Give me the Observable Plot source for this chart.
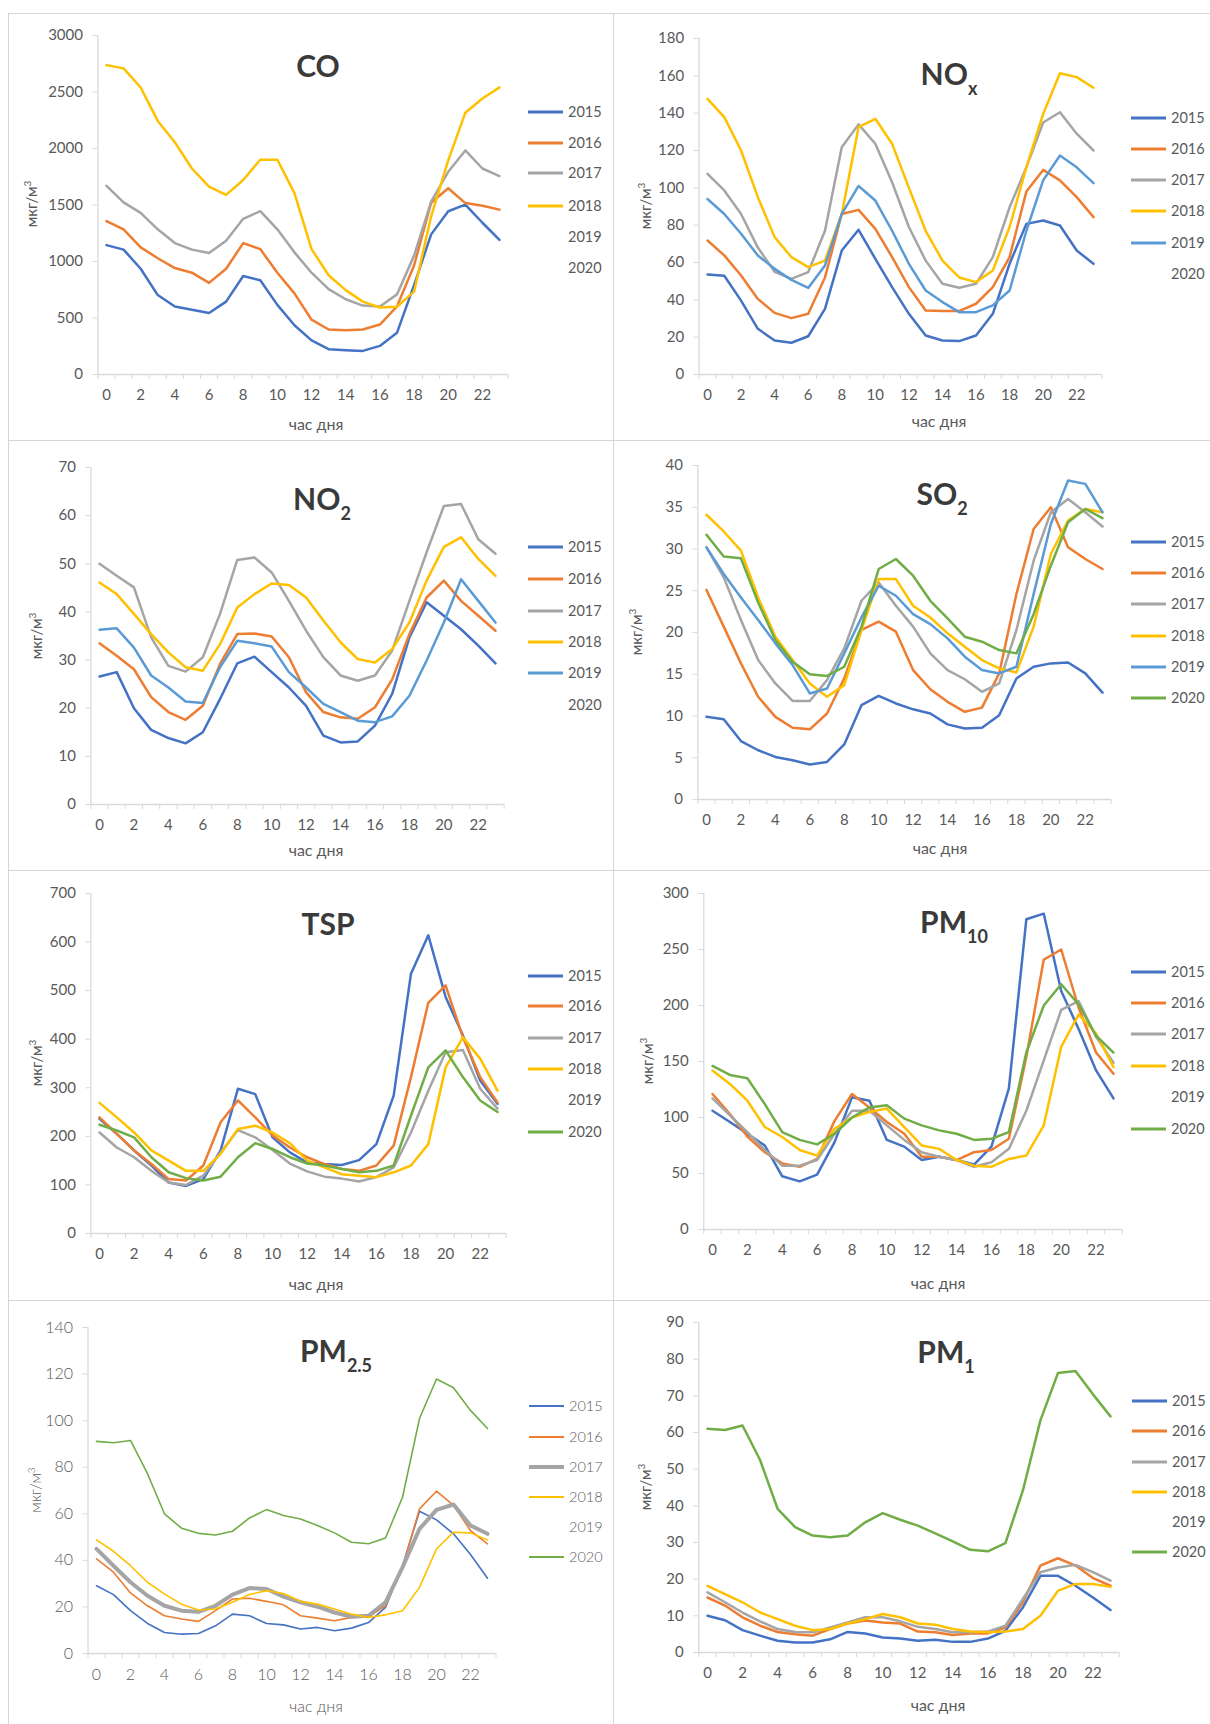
<!DOCTYPE html>
<html><head><meta charset="utf-8">
<script src="https://cdn.jsdelivr.net/npm/d3@7"></script>
<script src="https://cdn.jsdelivr.net/npm/@observablehq/plot@0.6"></script>
<style>
body{margin:0;background:#fff;font-family:Lato,"Open Sans",sans-serif;}
#page{position:relative;width:1210px;height:1724px;overflow:hidden;background:#fff;}
.frame{position:absolute;box-sizing:border-box;border-top:1px solid #d6d6d6;border-left:1px solid #d6d6d6;}
.svgwrap{position:absolute;}
.title{position:absolute;font-weight:700;font-size:30px;line-height:30px;color:#3a3a3a;white-space:nowrap;transform:translate(-50%,-50%);}
.title sub{font-size:18px;vertical-align:baseline;position:relative;top:10px;}
.xlab{position:absolute;font-size:16px;color:#595959;white-space:nowrap;transform:translate(-50%,-50%);}
.ylab{position:absolute;font-size:15px;color:#595959;white-space:nowrap;transform:translate(-50%,-50%) rotate(-90deg);}
.ylab sup{font-size:10px;}
.lg{position:absolute;height:0;}
.lgline{position:absolute;width:35px;height:3px;transform:translateY(-50%);}
.lgtext{position:absolute;font-size:14.5px;color:#595959;transform:translateY(-50%);line-height:16px;}
</style></head>
<body><div id="page"></div>
<script>
// ---------------- DATA ----------------
const hours = [0,1,2,3,4,5,6,7,8,9,10,11,12,13,14,15,16,17,18,19,20,21,22,23];
const hourTicks = [0,2,4,6,8,10,12,14,16,18,20,22];
const years = ["2015","2016","2017","2018","2019","2020"];

// CO
const CO_ticks = [0,500,1000,1500,2000,2500,3000];
const CO_2015 = [1145,1105,936,703,602,573,544,645,872,834,616,436,302,224,215,209,253,369,791,1240,1445,1503,1343,1192];
const CO_2016 = [1358,1285,1125,1029,942,901,811,936,1163,1110,901,718,485,398,392,398,442,602,965,1520,1648,1517,1494,1459];
const CO_2017 = [1669,1523,1430,1285,1163,1105,1076,1183,1378,1445,1285,1081,901,756,666,610,602,709,1052,1530,1794,1983,1823,1756];
const CO_2018 = [2738,2709,2540,2244,2055,1823,1663,1590,1721,1901,1900,1605,1110,878,747,645,593,600,733,1400,1895,2317,2442,2541];

// NOx
const NOX_ticks = [0,20,40,60,80,100,120,140,160,180];
const NOX_2015 = [53.6,52.9,39.6,24.5,18.2,17,20.5,35.2,66.4,77.5,62,46.8,32.5,20.9,18.2,17.9,20.9,32.5,59.3,80.7,82.5,79.8,66.4,59.3];
const NOX_2016 = [71.8,63.8,53,40.5,33,30.2,32.5,52,86,88.2,78,62.9,46.8,34.3,34,34,37.9,46.8,62.9,98,109.6,104,95,84.3];
const NOX_2017 = [107.5,98.6,86,68,55,51.2,54.8,77,121.8,134,123.6,103,79,61,48.6,46.5,48.6,62.9,89.6,111,135,140.5,129,120];
const NOX_2018 = [147.7,137.9,120,95,73.6,62.9,57.5,61,86,132.5,137,123.6,100,77,61,52,49.5,55.7,79,111,139.6,161.4,159.3,153.6];
const NOX_2019 = [94,86,75.4,63.8,56.6,50.7,46.4,58.4,86,101,93.2,77,59.3,45,38.8,33.4,33.4,37,45,77,104,117.3,111,102.5];

// NO2
const NO2_ticks = [0,10,20,30,40,50,60,70];
const NO2_2015 = [26.6,27.5,20,15.5,13.8,12.7,15,21.9,29.3,30.7,27.5,24.3,20.5,14.3,12.9,13.1,16.4,23,34.7,42,39.2,36.4,33,29.3];
const NO2_2016 = [33.5,30.9,28.1,22.3,19.2,17.6,20.5,29.2,35.4,35.5,34.9,30.6,23.3,19.2,18.1,17.8,20.2,26,35.4,43,46.5,42.3,39.2,36.1];
const NO2_2017 = [50,47.5,45.1,34.7,28.8,27.6,30.6,39.6,50.8,51.3,48.2,42.3,36.1,30.6,26.8,25.7,26.8,32,42.3,52.4,62,62.4,55.1,52.1];
const NO2_2018 = [46.1,43.7,39.6,35.4,31.6,28.5,27.8,33.3,40.9,43.7,45.9,45.6,43,38.2,33.7,30.2,29.5,32.3,37.8,46.5,53.5,55.5,51,47.5];
const NO2_2019 = [36.3,36.6,32.6,26.8,24.3,21.4,21.1,28.5,34,33.5,32.8,27.5,24.3,20.9,19.2,17.4,17.1,18.3,22.6,29.9,37.8,46.8,42.3,37.8];

// SO2
const SO2_ticks = [0,5,10,15,20,25,30,35,40];
const SO2_2015 = [9.9,9.6,7,5.9,5.1,4.7,4.2,4.5,6.6,11.3,12.4,11.5,10.8,10.3,9,8.5,8.6,10.1,14.5,15.9,16.3,16.4,15.1,12.8];
const SO2_2016 = [25.1,20.7,16.3,12.3,9.9,8.6,8.4,10.3,14.5,20.3,21.3,20.1,15.5,13.2,11.7,10.5,11,15.1,24.6,32.4,35,30.2,28.8,27.6];
const SO2_2017 = [30.2,26.6,21.5,16.7,13.9,11.8,11.8,14.3,18.1,23.8,26,23.2,20.7,17.5,15.5,14.4,12.9,13.9,20.3,28.6,34.4,36,34.4,32.7];
const SO2_2018 = [34.1,32.1,29.8,24.2,19.5,16.7,13.9,12.3,13.7,20.3,26.4,26.4,23.2,21.8,19.9,18.3,16.7,15.7,15.2,20.7,29.4,33.4,34.8,34.4];
const SO2_2019 = [30.2,27,24.2,21.5,18.7,16.1,12.7,13.3,17.5,21.8,25.6,24.4,22.2,21,19.3,17.1,15.5,15.1,15.9,24.6,33,38.2,37.8,34.4];
const SO2_2020 = [31.7,29.1,28.9,23.6,19.1,16.5,15,14.8,15.9,20.7,27.6,28.8,26.8,23.8,21.7,19.5,18.9,17.9,17.5,22.2,28,33.2,34.8,33.7];

// TSP
const TSP_ticks = [0,100,200,300,400,500,600,700];
const TSP_2015 = [236,205,171,140,105,98,112,171,298,287,198,167,146,143,141,151,184,284,535,614,487,408,315,267];
const TSP_2016 = [239,205,171,143,112,109,140,229,274,239,202,177,157,143,133,129,140,181,322,475,511,404,322,270];
const TSP_2017 = [208,177,157,129,105,100,119,167,213,198,172,144,128,117,113,107,116,136,208,294,373,378,298,257];
const TSP_2018 = [269,239,208,171,150,129,129,164,215,222,208,186,150,136,122,119,116,126,140,184,342,404,360,294];
const TSP_2020 = [224,212,198,157,126,114,109,117,157,186,174,157,144,140,133,126,129,140,243,342,377,322,274,250];

// PM10
const PM10_ticks = [0,50,100,150,200,250,300];
const PM10_2015 = [106,96,85.5,75,47.5,43,49,78,118,115,80,74,62,65,62,58,74,126,277,282,213,179,142,117];
const PM10_2016 = [121,103,83,69,59,56,63,97,121,109,96,85.5,65,65,62,69,71,81,154,241,250,198,158,139];
const PM10_2017 = [117,102,87,71,57,57,62,85.5,106,106,93,80,69,65,62,56,60,72,106,151,196,204,172,149];
const PM10_2018 = [142,130,115,91.5,82.6,71,66,90,100,105,108,91.5,75,72,62,57,56,63,66,93,163,192,175,145];
const PM10_2020 = [146,138,135,112,87,80,76,85.5,100,109,111,99,93,88.5,85.5,80,81,87,158,200,219,201,173,158];

// PM2.5
const PM25_ticks = [0,20,40,60,80,100,120,140];
const PM25_2015 = [29.1,25.3,18.4,12.9,9,8.3,8.6,11.9,16.9,16.2,12.9,12.3,10.5,11.2,9.8,10.9,13.3,19.8,37.7,61.1,57.4,51.4,42.5,32.3];
const PM25_2016 = [40.6,34.9,26,20.5,16.2,14.8,13.8,18.4,23.4,23.7,22.4,20.9,16.2,15.2,14.1,15.5,15.8,20.5,37,62.1,69.7,63.6,52.8,47.1];
const PM25_2017 = [44.9,37.7,30.6,24.8,20.5,18.4,17.9,20.5,25.3,28.1,27.7,24.4,22,20.1,17.6,15.8,16.2,22,37,53.5,61.7,64,55,51.4];
const PM25_2018 = [48.8,43.9,37.7,30.6,25.5,21.2,18.7,19.1,22,25.3,27,25.8,22.4,21.2,19.1,16.9,15.5,16.6,18.4,28.4,44.9,52.1,51.8,48.8];
const PM25_2020 = [91.1,90.5,91.5,77.2,60,53.8,51.6,50.9,52.5,58.2,61.8,59.3,57.8,55,51.8,47.8,47.1,49.6,67.1,100.9,117.9,114.1,104.4,96.6];

// PM1
const PM1_ticks = [0,10,20,30,40,50,60,70,80,90];
const PM1_2015 = [10,8.8,6.1,4.6,3.2,2.7,2.7,3.6,5.6,5.2,4.1,3.8,3.2,3.5,2.9,2.9,3.8,5.9,12.3,20.9,20.9,18.2,15,11.6];
const PM1_2016 = [15,12.8,9.6,7.3,5.6,5,4.6,6.4,7.9,8.7,8.2,7.9,5.7,5.5,4.8,5.2,5.2,6.8,13.7,23.7,25.7,23.7,20.3,18.2];
const PM1_2017 = [16.4,13.7,10.9,8.5,6.4,5.6,5.5,6.8,8.2,9.6,9.6,8.5,7,6.4,5.5,5.5,5.7,7.3,14.6,21.9,23.2,23.9,21.9,19.6];
const PM1_2018 = [18.2,15.9,13.7,10.9,9.1,7.3,6.1,6.4,7.9,9.1,10.5,9.6,7.9,7.6,6.4,5.7,5.5,5.7,6.4,10,16.8,18.7,18.7,17.9];
const PM1_2020 = [61,60.7,61.9,52.5,39.2,34.2,31.9,31.4,31.9,35.5,38,36.2,34.6,32.5,30.3,28,27.6,29.8,44.2,63.3,76.2,76.8,70.4,64.4];

// ---------------- STYLE / LAYOUT ----------------
const colors = {"2015":"#4472C4","2016":"#ED7D31","2017":"#A5A5A5","2018":"#FFC000","2019":"#5B9BD5","2020":"#70AD47"};
const col = [[8,605],[613,597]];
const row = [[13,427],[440,430],[870,430],[1300,424]];

const panels = [
  {name:"CO", sub:"", r:0, c:0, ticks:CO_ticks, series:{"2015":CO_2015,"2016":CO_2016,"2017":CO_2017,"2018":CO_2018},
   h0:106, h23:499, top:35, bottom:374, lgx:528, lgy:[112,143,173,206,237,268], tt:[318,65], xl:[316,423], yl:[30,204]},
  {name:"NO", sub:"x", r:0, c:1, ticks:NOX_ticks, series:{"2015":NOX_2015,"2016":NOX_2016,"2017":NOX_2017,"2018":NOX_2018,"2019":NOX_2019},
   h0:707, h23:1093, top:38, bottom:374, lgx:1131, lgy:[118,149,180,211,243,274], tt:[949,75], xl:[939,420], yl:[644,206]},
  {name:"NO", sub:"2", r:1, c:0, ticks:NO2_ticks, series:{"2015":NO2_2015,"2016":NO2_2016,"2017":NO2_2017,"2018":NO2_2018,"2019":NO2_2019},
   h0:99, h23:495, top:467, bottom:804, lgx:528, lgy:[547,579,611,642,673,705], tt:[322,500], xl:[316,849], yl:[35,636]},
  {name:"SO", sub:"2", r:1, c:1, ticks:SO2_ticks, series:{"2015":SO2_2015,"2016":SO2_2016,"2017":SO2_2017,"2018":SO2_2018,"2019":SO2_2019,"2020":SO2_2020},
   h0:706, h23:1102, top:465, bottom:799, lgx:1131, lgy:[542,573,604,636,667,698], tt:[942,495], xl:[940,847], yl:[635,632]},
  {name:"TSP", sub:"", r:2, c:0, ticks:TSP_ticks, series:{"2015":TSP_2015,"2016":TSP_2016,"2017":TSP_2017,"2018":TSP_2018,"2020":TSP_2020},
   h0:99, h23:497, top:893, bottom:1233, lgx:528, lgy:[976,1006,1038,1069,1100,1132], tt:[328,923], xl:[316,1283], yl:[35,1063]},
  {name:"PM", sub:"10", r:2, c:1, ticks:PM10_ticks, series:{"2015":PM10_2015,"2016":PM10_2016,"2017":PM10_2017,"2018":PM10_2018,"2020":PM10_2020},
   h0:712, h23:1113, top:893, bottom:1229, lgx:1131, lgy:[972,1003,1034,1066,1097,1129], tt:[954,923], xl:[938,1282], yl:[646,1061]},
  {name:"PM", sub:"2.5", r:3, c:0, ticks:PM25_ticks, series:{"2015":PM25_2015,"2016":PM25_2016,"2017":PM25_2017,"2018":PM25_2018,"2020":PM25_2020},
   h0:96, h23:487, top:1327, bottom:1653, lgx:529, lgy:[1406,1437,1467,1497,1527,1557], tt:[336,1352], xl:[316,1705], yl:[34,1490], thin:true},
  {name:"PM", sub:"1", r:3, c:1, ticks:PM1_ticks, series:{"2015":PM1_2015,"2016":PM1_2016,"2017":PM1_2017,"2018":PM1_2018,"2020":PM1_2020},
   h0:707, h23:1110, top:1322, bottom:1652, lgx:1132, lgy:[1401,1431,1462,1492,1522,1552], tt:[946,1353], xl:[938,1704], yl:[644,1487]}
];

const page = document.getElementById("page");
const boundaries = hours.map(h => h - 0.5).concat([23.5]);
const txt = "#595959", axisCol = "#d9d9d9";

function el(cls, x, y, html){
  const d = document.createElement("div");
  d.className = cls; d.style.left = x + "px"; d.style.top = y + "px";
  if (html != null) d.innerHTML = html;
  page.appendChild(d); return d;
}

for (const p of panels){
  const [ox, W] = col[p.c], [oy, H] = row[p.r];
  const fr = el("frame", ox, oy); fr.style.width = W + "px"; fr.style.height = H + "px";
  const band = (p.h23 - p.h0) / 23;
  const left = p.h0 - band / 2, right = p.h23 + band / 2;
  const ymax = p.ticks[p.ticks.length - 1];
  const fw = p.thin ? 300 : 400;
  const fs = p.thin ? 16 : 15;
  const marks = [
    Plot.ruleY([0], {stroke: axisCol, strokeWidth: 1.3}),
    Plot.ruleX([-0.5], {stroke: axisCol, strokeWidth: 1.3}),
    Plot.axisY(p.ticks, {tickSize: 5, tickPadding: 10, stroke: axisCol, fill: txt, fontSize: fs, fontWeight: fw, tickFormat: d => String(d), label: null}),
    Plot.axisX(boundaries, {tickSize: 5, tickFormat: () => "", stroke: axisCol, label: null}),
    Plot.axisX(hourTicks, {tickSize: 0, tickPadding: 15, fill: txt, fontSize: fs, fontWeight: fw, tickFormat: d => String(d), label: null})
  ];
  for (const y of years){
    const vals = p.series[y];
    if (!vals) continue;
    const data = hours.map((h, i) => ({hour: h, value: vals[i], year: y}));
    let sw = 2.5;
    if (p.thin) sw = (y === "2017") ? 4 : 1.6;
    marks.push(Plot.line(data, {x: "hour", y: "value", stroke: colors[y], strokeWidth: sw, strokeLinejoin: "round"}));
  }
  const svg = Plot.plot({
    width: W, height: H,
    marginLeft: left - ox, marginRight: ox + W - right,
    marginTop: p.top - oy, marginBottom: oy + H - p.bottom,
    x: {domain: [-0.5, 23.5]},
    y: {domain: [0, ymax]},
    style: {fontFamily: "Lato, 'Open Sans', sans-serif", background: "transparent", overflow: "visible"},
    marks
  });
  const wrap = el("svgwrap", ox, oy); wrap.appendChild(svg);

  el("title", p.tt[0], p.tt[1], p.name + (p.sub ? "<sub>" + p.sub + "</sub>" : ""));
  const xl = el("xlab", p.xl[0], p.xl[1], "час дня"); xl.style.fontWeight = fw;
  const yl = el("ylab", p.yl[0], p.yl[1], "мкг/м<sup>3</sup>"); yl.style.fontWeight = fw;

  years.forEach((y, i) => {
    const yy = p.lgy[i];
    if (p.series[y]){
      const ln = el("lgline", p.lgx, yy);
      ln.style.background = colors[y];
      if (p.thin) ln.style.height = (y === "2017" ? 4 : 2) + "px";
    }
    const t = el("lgtext", p.lgx + 40, yy, y); t.style.fontWeight = fw;
  });
}
</script></body></html>
